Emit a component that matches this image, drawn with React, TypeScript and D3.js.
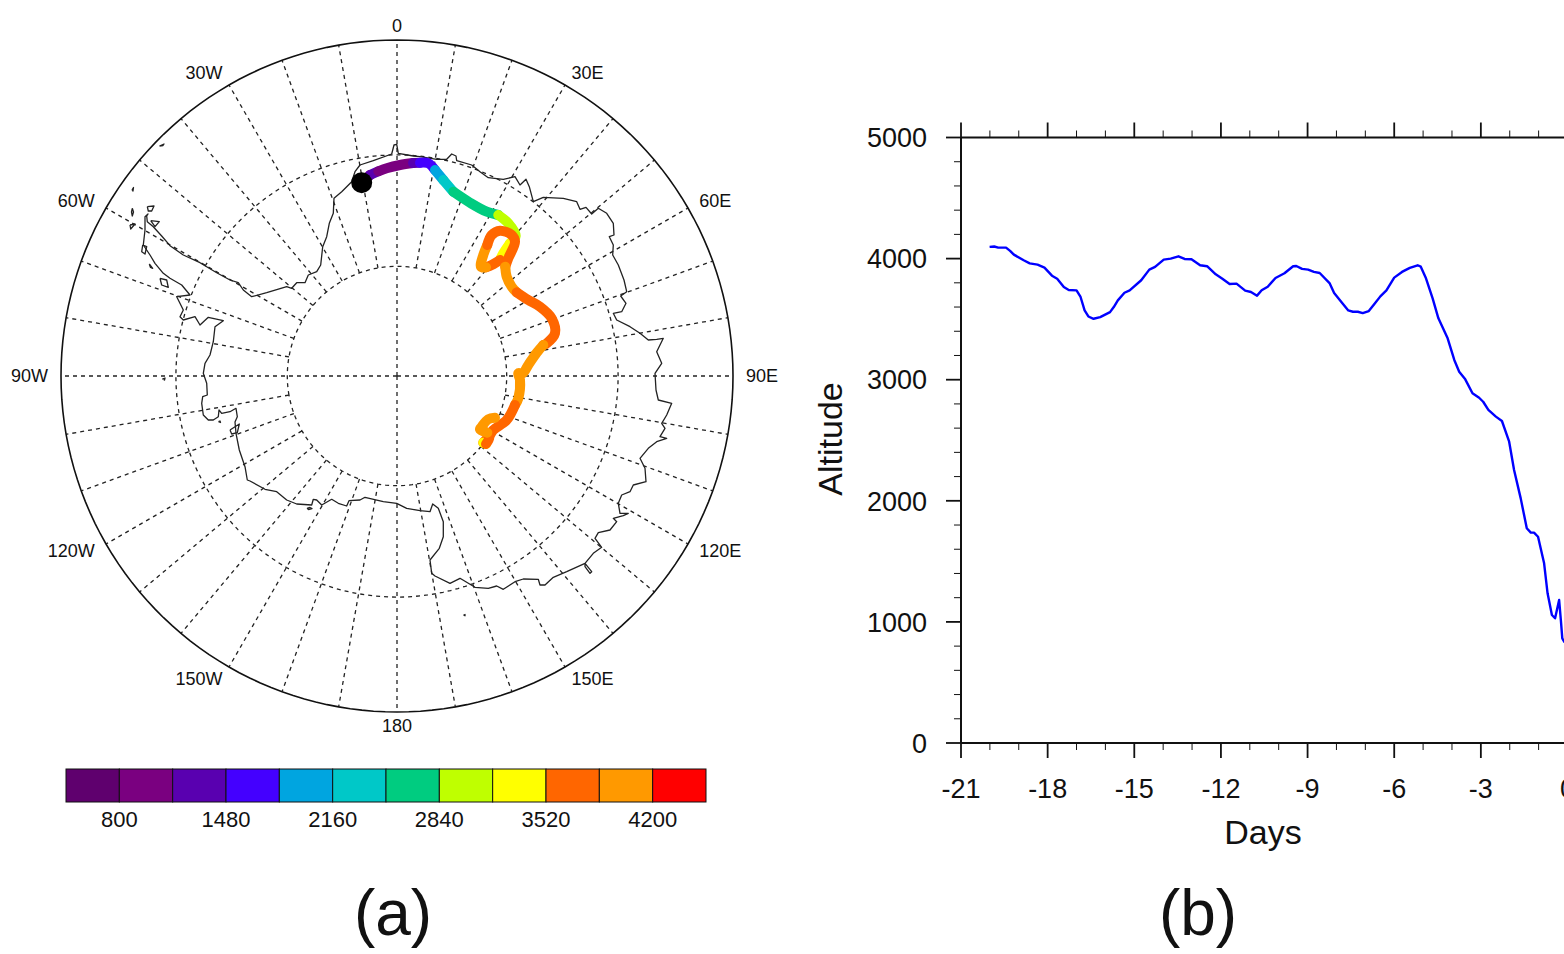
import React from "react";
import * as d3 from "d3";

// polar stereographic map coordinates, km east / north of the pole
const coastKm: [number, number][] = [
  [-2503,1600],[-2497,1543],[-2437,1493],[-2353,1400],[-2270,1303],[-2137,1210],[-1970,1133],[-1803,1033],
  [-1670,960],[-1587,933],[-1537,860],[-1453,793],[-1303,833],[-1103,893],[-1053,877],[-1003,933],[-920,933],
  [-887,1010],[-803,1043],[-763,1110],[-743,1293],[-703,1393],[-677,1527],[-637,1627],[-630,1777],[-553,1843],
  [-453,1943],[-420,2043],[-370,2110],[-237,2153],[-53,2220],[-30,2310],[-3,2317],[13,2227],[163,2200],[230,2193],
  [397,2167],[497,2167],[547,2220],[590,2200],[597,2153],[747,2110],[830,2043],[913,1983],[1063,1967],[1180,1993],
  [1230,1910],[1290,1967],[1323,1893],[1363,1743],[1463,1787],[1663,1777],[1797,1743],[1830,1667],[1890,1687],
  [1947,1620],[2013,1677],[2097,1627],[2163,1527],[2170,1410],[2123,1393],[2163,1310],[2157,1210],[2213,1110],
  [2270,960],[2297,843],[2237,800],[2290,727],[2247,643],[2163,627],[2197,560],[2330,493],[2430,427],[2513,360],
  [2597,367],[2663,377],[2597,243],[2647,127],[2580,27],[2590,-140],[2613,-240],[2747,-273],[2697,-390],[2647,-473],
  [2680,-523],[2630,-607],[2697,-623],[2597,-657],[2513,-723],[2430,-823],[2480,-923],[2490,-1057],[2363,-1090],
  [2330,-1157],[2247,-1190],[2213,-1273],[2230,-1373],[2313,-1373],[2263,-1397],[2163,-1423],[2197,-1457],[2130,-1540],
  [2013,-1567],[1980,-1623],[2047,-1713],[1963,-1773],[1880,-1873],[1697,-1957],[1563,-2013],[1480,-2090],[1430,-2090],
  [1413,-2033],[1263,-2030],[1180,-2057],[1063,-2133],[997,-2100],[913,-2123],[780,-2113],[630,-2023],[530,-2073],
  [380,-2000],[347,-1973],[330,-1840],[423,-1723],[463,-1607],[463,-1457],[413,-1323],[357,-1280],[330,-1357],
  [230,-1347],[97,-1323],[-3,-1273],[-137,-1257],[-320,-1213],[-370,-1240],[-480,-1247],[-503,-1300],[-587,-1273],
  [-653,-1233],[-753,-1290],[-803,-1240],[-837,-1233],[-853,-1290],[-1003,-1280],[-1103,-1240],[-1203,-1157],
  [-1320,-1133],[-1470,-1050],[-1497,-1040],[-1520,-907],[-1577,-740],[-1610,-573],[-1620,-460],[-1597,-407],
  [-1610,-323],[-1670,-357],[-1753,-373],[-1780,-340],[-1787,-407],[-1837,-440],[-1887,-440],[-1937,-390],[-1953,-273],
  [-1943,-207],[-1897,-190],[-1903,-73],[-1937,27],[-1920,127],[-1870,210],[-1837,343],[-1820,493],[-1737,553],
  [-1887,587],[-1970,510],[-2020,593],[-2137,560],[-2170,593],[-2137,660],[-2203,793],[-2070,810],[-2153,910],
  [-2270,977],[-2337,1027],[-2420,1127],[-2470,1210],[-2537,1310],[-2520,1460],[-2520,1593],[-2490,1620],[-2503,1600],
];

const islandsKm: [number, number][][] = [
  [[-2375,2300],[-2330,2320],[-2340,2305],[-2375,2300]],
  [[-2650,1860],[-2635,1885],[-2640,1850],[-2650,1860]],
  [[-2647,1677],[-2635,1640],[-2647,1600],[-2655,1640],[-2647,1677]],
  [[-2497,1693],[-2430,1700],[-2453,1650],[-2487,1650],[-2497,1693]],
  [[-2670,1510],[-2620,1520],[-2663,1470],[-2670,1510]],
  [[-2463,1553],[-2377,1543],[-2420,1493],[-2463,1553]],
  [[-2543,1310],[-2503,1293],[-2520,1220],[-2553,1243],[-2543,1310]],
  [[-2477,1120],[-2443,1077],[-2465,1085],[-2477,1120]],
  [[-2370,977],[-2303,960],[-2287,887],[-2353,910],[-2370,977]],
  [[-2347,-30],[-2320,-20],[-2325,-40],[-2347,-30]],
  [[-900,-1323],[-870,-1315],[-850,-1325],[-885,-1335],[-900,-1323]],
  [[-1785,-457],[-1770,-450],[-1765,-465],[-1785,-457]],
  [[-1670,-540],[-1577,-480],[-1597,-567],[-1653,-580],[-1670,-540]],
  [[665,-2390],[680,-2385],[680,-2398],[665,-2390]],
  [[1880,-1873],[1947,-1957],[1930,-1973],[1880,-1907],[1880,-1873]],
];

// trajectory, oldest point first: map position and altitude (m)
const trackKm: [number, number][] = [
  [980,-417],[913,-433],[847,-507],[830,-533],[903,-567],[923,-613],[890,-680],[863,-667],[930,-590],[963,-540],
  [1097,-440],[1180,-290],[1213,-223],[1230,-40],[1213,27],[1257,27],[1313,110],[1397,233],[1463,310],[1497,327],
  [1580,427],[1547,577],[1430,693],[1313,760],[1197,837],[1147,893],[1097,993],[1083,1093],[1113,1177],[1180,1343],
  [1147,1410],[1030,1453],[947,1410],[903,1310],[863,1210],[840,1093],[890,1087],[947,1110],[1030,1160],[1063,1227],
  [1130,1327],[1187,1400],[1113,1527],[1013,1610],[897,1643],[730,1733],[563,1843],[463,1960],[380,2060],[313,2127],
  [230,2133],[160,2130],[30,2110],[-103,2077],[-187,2047],[-270,2010],[-353,1933],
];
const trackAlt = [
  4100,4090,4040,3960,3880,3800,3730,3500,3600,3700,
  3800,3850,3870,4000,4010,4020,4000,3950,3870,3850,
  3800,3750,3720,3700,3800,3880,3930,3880,3800,3650,
  3580,3560,3650,3800,3880,3930,3930,3850,3600,3480,
  3200,3100,3000,2900,2800,2600,2520,2400,2100,1700,
  1500,1400,1120,1040,1040,1180,850,
];

const altLevels = [800,1140,1480,1820,2160,2500,2840,3180,3520,3860,4200];
const altColors = ["#5f006e","#7a0080","#5900b0","#4400ff","#00a5e0","#00c8c8","#00cc80","#bfff00","#ffff00","#ff6600","#ff9900","#ff0000"];
const altLabels = [800,1480,2160,2840,3520,4200];

const lonLabels: [number, string][] = [
  [0,"0"],[30,"30E"],[60,"60E"],[90,"90E"],[120,"120E"],[150,"150E"],
  [180,"180"],[-150,"150W"],[-120,"120W"],[-90,"90W"],[-60,"60W"],[-30,"30W"],
];

// altitude against days before the end of the run
const days = [
  -20.01,-19.85,-19.71,-19.44,-19.30,-19.17,-18.83,-18.62,-18.35,-18.11,-17.85,-17.67,-17.44,-17.27,-17.0,-16.86,
  -16.72,-16.59,-16.41,-16.18,-15.84,-15.71,-15.57,-15.34,-15.16,-14.76,-14.48,-14.28,-13.98,-13.74,-13.47,-13.26,
  -13.02,-12.72,-12.48,-12.18,-11.95,-11.70,-11.46,-11.16,-10.96,-10.75,-10.59,-10.38,-10.11,-9.80,-9.50,-9.39,
  -9.19,-8.98,-8.78,-8.58,-8.24,-8.08,-7.83,-7.59,-7.43,-7.26,-7.09,-6.88,-6.68,-6.48,-6.27,-6.00,-5.73,-5.46,
  -5.19,-5.08,-4.90,-4.67,-4.47,-4.15,-3.92,-3.75,-3.54,-3.29,-3.06,-2.92,-2.74,-2.48,-2.27,-2.02,-1.85,-1.62,
  -1.41,-1.27,-1.16,-1.02,-0.81,-0.69,-0.54,-0.43,-0.29,-0.23,-0.18,-0.1,
];
const altitude = [
  4097,4100,4091,4091,4064,4033,3986,3961,3950,3926,3859,3834,3765,3741,3738,3683,
  3572,3522,3503,3517,3558,3600,3655,3718,3738,3821,3909,3931,3992,4000,4019,3997,
  3995,3945,3937,3870,3834,3790,3793,3735,3724,3694,3738,3768,3840,3879,3937,3939,
  3915,3909,3890,3881,3798,3716,3641,3572,3561,3561,3550,3567,3627,3688,3738,3843,3890,3923,
  3945,3933,3837,3672,3507,3342,3163,3066,3003,2888,2851,2818,2750,2695,2659,2488,2254,2020,
  1773,1737,1737,1703,1484,1236,1057,1030,1181,1015,864,830,
];
const dayTicks = [-21,-18,-15,-12,-9,-6,-3,0];

const FONT = "'Liberation Sans', Arial, sans-serif";

export default function App() {
  // map panel
  const projection = d3.geoStereographic()
    .rotate([0, 90])
    .scale(336 / Math.tan((15 * Math.PI) / 180))
    .translate([397, 376]);
  const geoPath = d3.geoPath(projection);
  const xKm = d3.scaleLinear().domain([-3360, 3360]).range([61, 733]);
  const yKm = d3.scaleLinear().domain([-3360, 3360]).range([712, 40]);
  const kmLine = d3.line<[number, number]>().x(d => xKm(d[0])).y(d => yKm(d[1]));
  const ring = (radius: number) => d3.geoCircle().center([0, -90]).radius(radius)();
  const meridians = d3.range(-180, 180, 10).map(lon => ({
    type: "LineString",
    coordinates: [[lon, lon % 90 === 0 ? -90 : -80], [lon, -70], [lon, -60]],
  }));

  const altColor = d3.scaleThreshold<number, string>().domain(altLevels).range(altColors);
  // consecutive track points that fall in one colour band make one stroke
  const runs: { color: string; pts: [number, number][] }[] = [];
  trackKm.forEach((p, i) => {
    const color = altColor(trackAlt[i]);
    const last = runs[runs.length - 1];
    if (last && last.color === color) last.pts.push(p);
    else runs.push({ color, pts: last ? [last.pts[last.pts.length - 1], p] : [p] });
  });
  const trackLine = d3.line<[number, number]>().x(d => xKm(d[0])).y(d => yKm(d[1])).curve(d3.curveCatmullRom);
  const trackEnd = trackKm[trackKm.length - 1];

  const barX = d3.scaleLinear().domain([460, 4540]).range([66, 706]);
  const barEdges = [460, ...altLevels, 4540];

  // altitude panel
  const x = d3.scaleLinear().domain([-21, 0]).range([961, 1567.5]);
  const y = d3.scaleLinear().domain([0, 5000]).range([743, 137.5]);
  const altLine = d3.line<number>().x((_, i) => x(days[i])).y(d => y(d));

  return (
    <svg width={1564} height={954} style={{ position: "absolute", left: 0, top: 0, display: "block", fontFamily: FONT }}>
      <g fill="none" stroke="#222" strokeWidth={1.3} strokeDasharray="4 4">
        {meridians.map((m, i) => <path key={i} d={geoPath(m as any) as string} />)}
        <path d={geoPath(ring(10)) as string} />
        <path d={geoPath(ring(20)) as string} />
      </g>
      <path d={geoPath(ring(30)) as string} fill="none" stroke="#111" strokeWidth={1.6} />
      <g fill="none" stroke="#222" strokeWidth={1.3} strokeLinejoin="round">
        <path d={kmLine(coastKm) as string} />
        {islandsKm.map((isl, i) => <path key={i} d={kmLine(isl) as string} />)}
      </g>
      {/* newest part first, the older track lies on top where it crosses itself */}
      <g fill="none" strokeWidth={10} strokeLinecap="round" strokeLinejoin="round">
        {runs.slice().reverse().map((r, i) => <path key={i} d={trackLine(r.pts) as string} stroke={r.color} />)}
      </g>
      <circle cx={xKm(trackEnd[0])} cy={yKm(trackEnd[1])} r={10.5} fill="#000" />
      <g fontSize={18} fill="#111">
        {lonLabels.map(([lon, text]) => {
          const t = (lon * Math.PI) / 180;
          const [px, py] = projection([lon, -60]) as [number, number];
          const anchor = lon === 0 || lon === 180 ? "middle" : lon > 0 ? "start" : "end";
          return (
            <text key={text} x={px + 13 * Math.sin(t)} y={py - 14 * Math.cos(t)} dy="0.35em" textAnchor={anchor}>
              {text}
            </text>
          );
        })}
      </g>

      {altColors.map((c, i) => (
        <rect key={c} x={barX(barEdges[i])} y={769} width={barX(barEdges[i + 1]) - barX(barEdges[i])} height={33}
          fill={c} stroke="#111" strokeWidth={1} />
      ))}
      <g fontSize={22} fill="#111" textAnchor="middle">
        {altLabels.map(v => <text key={v} x={barX(v)} y={827}>{v}</text>)}
      </g>

      <g stroke="#111" fill="none">
        <path d={`M${x(-21)},${y(0)}V${y(5000)}`} strokeWidth={2} />
        <path d={`M${x(-21)},${y(0)}H1564`} strokeWidth={2} />
        <path d={`M${x(-21)},${y(5000)}H1564`} strokeWidth={2} />
        {d3.range(-21, 1).map(d => {
          const len = dayTicks.includes(d) ? 15 : 7;
          const w = dayTicks.includes(d) ? 1.8 : 1;
          return (
            <g key={d} strokeWidth={w}>
              <line x1={x(d)} x2={x(d)} y1={y(0)} y2={y(0) + len} />
              <line x1={x(d)} x2={x(d)} y1={y(5000)} y2={y(5000) - len} />
            </g>
          );
        })}
        {y.ticks(25).map(v => (
          <line key={v} x1={x(-21)} x2={x(-21) - (v % 1000 === 0 ? 15 : 7)} y1={y(v)} y2={y(v)}
            strokeWidth={v % 1000 === 0 ? 1.8 : 1} />
        ))}
      </g>
      <path d={altLine(altitude) as string} fill="none" stroke="#0000ff" strokeWidth={2.4} strokeLinejoin="round" />
      <g fontSize={27} fill="#111">
        {y.ticks(5).map(v => (
          <text key={v} x={927} y={y(v)} dy="0.36em" textAnchor="end">{v}</text>
        ))}
        {dayTicks.map(d => (
          <text key={d} x={x(d)} y={798} textAnchor="middle">{d}</text>
        ))}
        <text x={1263} y={844} fontSize={34} textAnchor="middle">Days</text>
        <text transform="translate(842,439) rotate(-90)" fontSize={34} textAnchor="middle">Altitude</text>
      </g>
      <g fontSize={64} fill="#111" textAnchor="middle">
        <text x={393} y={935}>(a)</text>
        <text x={1198} y={935}>(b)</text>
      </g>
    </svg>
  );
}
